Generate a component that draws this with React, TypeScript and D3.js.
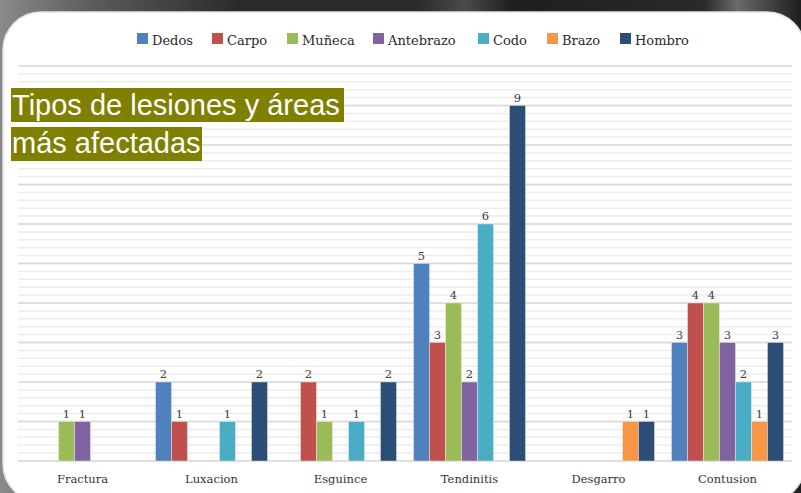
import React from "react";
import * as d3 from "d3";

const categories = ["Fractura", "Luxacion", "Esguince", "Tendinitis", "Desgarro", "Contusion"];
const seriesNames = ["Dedos", "Carpo", "Muñeca", "Antebrazo", "Codo", "Brazo", "Hombro"];
const dedos = [0, 2, 0, 5, 0, 3];
const carpo = [0, 1, 2, 3, 0, 4];
const muneca = [1, 0, 1, 4, 0, 4];
const antebrazo = [1, 0, 0, 2, 0, 3];
const codo = [0, 1, 1, 6, 0, 2];
const brazo = [0, 0, 0, 0, 1, 1];
const hombro = [0, 2, 2, 9, 1, 3];
const seriesValues = [dedos, carpo, muneca, antebrazo, codo, brazo, hombro];
const colors = ["#4F81BD", "#C0504D", "#9BBB59", "#8064A2", "#4BACC6", "#F79646", "#2C4D75"];
const titleLines = ["Tipos de lesiones y áreas", "más afectadas"];

const W = 801;
const H = 493;

export default function App() {
  const x = d3.scaleBand<string>().domain(categories).range([18, 792]).paddingInner(0.132).paddingOuter(0.066);
  const xs = d3.scaleBand<string>().domain(seriesNames).range([0, x.bandwidth()]).padding(0);
  const y = d3.scaleLinear().domain([0, 10]).range([461, 66]);
  const minorTicks = d3.range(0, 10.001, 0.2).map((v) => Math.round(v * 10) / 10);
  const majorTicks = y.ticks(10);

  const legendX = [137, 212, 287, 373, 478, 547, 620];
  const serif = "'DejaVu Serif', serif";

  return (
    <svg width={W} height={H} style={{ position: "absolute", left: 0, top: 0, display: "block" }}>
      <defs>
        <linearGradient id="bg" x1="0" y1="0" x2="1" y2="0">
          <stop offset="0" stopColor="#8a8a8a" />
          <stop offset="0.12" stopColor="#5a5a5a" />
          <stop offset="0.3" stopColor="#2a2a2a" />
          <stop offset="0.52" stopColor="#2a2a2a" />
          <stop offset="0.58" stopColor="#4a4a4a" />
          <stop offset="0.64" stopColor="#1e1e1e" />
          <stop offset="0.88" stopColor="#2a2a2a" />
          <stop offset="0.92" stopColor="#6a6a6a" />
          <stop offset="1" stopColor="#1e1e1e" />
        </linearGradient>
      </defs>
      <rect x={0} y={0} width={W} height={H} fill="url(#bg)" />
      <rect x={3} y={12} width={802} height={490} rx={38} ry={38} fill="#ffffff" stroke="#e3e3e3" strokeWidth={1.5} />

      {minorTicks.map((t) => (
        <line key={"m" + t} x1={18} x2={792} y1={y(t)} y2={y(t)} stroke="#ededed" strokeWidth={1.5} />
      ))}
      {majorTicks.map((t) => (
        <line key={"M" + t} x1={18} x2={792} y1={y(t)} y2={y(t)} stroke="#d8d8d8" strokeWidth={1.6} />
      ))}

      {categories.map((c, ci) => (
        <g key={c} transform={`translate(${x(c)},0)`}>
          {seriesNames.map((s, si) => {
            const v = seriesValues[si][ci];
            if (!v) return null;
            const bx = xs(s)!;
            return (
              <g key={s}>
                <rect
                  x={bx}
                  y={y(v)}
                  width={xs.bandwidth()}
                  height={y(0) - y(v)}
                  fill={colors[si]}
                  stroke="#ffffff"
                  strokeOpacity={0.45}
                  strokeWidth={0.8}
                />
                <text
                  x={bx + xs.bandwidth() / 2}
                  y={y(v) - 4}
                  textAnchor="middle"
                  fontFamily={serif}
                  fontSize={11.5}
                  fill="#404040"
                >
                  {v}
                </text>
              </g>
            );
          })}
          <text
            x={x.bandwidth() / 2}
            y={483}
            textAnchor="middle"
            fontFamily={serif}
            fontSize={11.5}
            fill="#333333"
          >
            {c}
          </text>
        </g>
      ))}

      {seriesNames.map((s, i) => (
        <g key={s}>
          <rect x={legendX[i]} y={33} width={11} height={11} fill={colors[i]} />
          <text x={legendX[i] + 15} y={44.5} fontFamily={serif} fontSize={13} fill="#2a2a2a">
            {s}
          </text>
        </g>
      ))}

      <rect x={11} y={88} width={333} height={34} fill="#808000" />
      <rect x={11} y={127} width={191} height={34} fill="#808000" />
      {titleLines.map((t, i) => (
        <text
          key={t}
          x={12}
          y={115 + i * 38}
          fontFamily="'Liberation Sans', Arial, sans-serif"
          fontSize={29}
          fill="#ffffff"
        >
          {t}
        </text>
      ))}
    </svg>
  );
}
